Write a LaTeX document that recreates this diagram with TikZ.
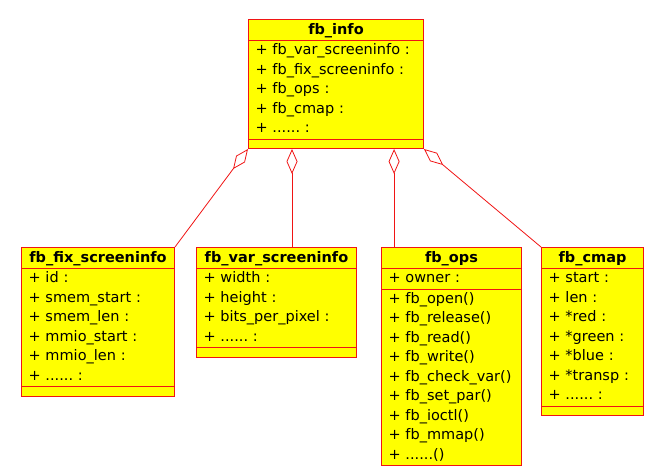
\documentclass[tikz,border=0pt]{standalone}
\usepackage{fontspec}
\setmainfont{DejaVu Sans}
\usetikzlibrary{shapes.multipart, arrows.meta, calc}
\definecolor{umlfill}{RGB}{255,255,0}
\definecolor{umlline}{RGB}{240,20,20}
\newcommand{\cname}[1]{\hfill\rule[-5.5pt]{0pt}{20pt}\textbf{#1}\hfill\null}
\newcommand{\members}[1]{\strut#1\strut}
\newcommand{\nomembers}{\rule{0pt}{8.5pt}}

\begin{document}
\begin{tikzpicture}[x=1pt, y=-1pt,
        class/.style={rectangle split, rectangle split parts=3, draw=umlline, fill=umlfill, line width=1pt, anchor=north west, align=left, inner xsep=7pt, inner ysep=0pt, font=\fontsize{14.5}{19.5}\selectfont\frenchspacing},
        agg/.style={{Diamond[open, length=25pt, width=11pt]}-, umlline, line width=0.8pt},
        split/.style={umlline, line width=1pt}
    ]
        \useasboundingbox (0,0) rectangle (656,472);

        \node[class, text width=161pt] (info) at (248,19) {\cname{fb\_info}\nodepart{two}\members{+ fb\_var\_screeninfo :\\+ fb\_fix\_screeninfo :\\+ fb\_ops :\\+ fb\_cmap :\\+ ...... :}\nodepart{three}\nomembers};

        \node[class, text width=139pt] (fix) at (21,247) {\cname{fb\_fix\_screeninfo}\nodepart{two}\members{+ id :\\+ smem\_start :\\+ smem\_len :\\+ mmio\_start :\\+ mmio\_len :\\+ ...... :}\nodepart{three}\nomembers};
        \node[class, text width=146pt] (var) at (196,247) {\cname{fb\_var\_screeninfo}\nodepart{two}\members{+ width :\\+ height :\\+ bits\_per\_pixel :\\+ ...... :}\nodepart{three}\nomembers};
        \node[class, text width=126pt] (ops) at (381,247) {\cname{fb\_ops}\nodepart{two}\members{+ owner :}\nodepart{three}\members{+ fb\_open()\\+ fb\_release()\\+ fb\_read()\\+ fb\_write()\\+ fb\_check\_var()\\+ fb\_set\_par()\\+ fb\_ioctl()\\+ fb\_mmap()\\+ ......()}};
        \node[class, text width=88pt] (cmap) at (541,247) {\cname{fb\_cmap}\nodepart{two}\members{+ start :\\+ len :\\+ *red :\\+ *green :\\+ *blue :\\+ *transp :\\+ ...... :}\nodepart{three}\nomembers};

        % class name separators
        \foreach \cls in {info, fix, var, ops, cmap}
            \draw[split] (\cls.one split west) -- (\cls.one split east);

        \coordinate (varlink) at ($(info.south west)!0.25!(info.south east)$);
        \coordinate (opslink) at ($(info.south west)!0.83!(info.south east)$);

        \draw[agg] (info.south west) -- (fix.north east);
        \draw[agg] (varlink) -- (varlink |- var.north);
        \draw[agg] (opslink) -- (opslink |- ops.north);
        \draw[agg] (info.south east) -- (cmap.north west);
    \end{tikzpicture}
\end{document}
